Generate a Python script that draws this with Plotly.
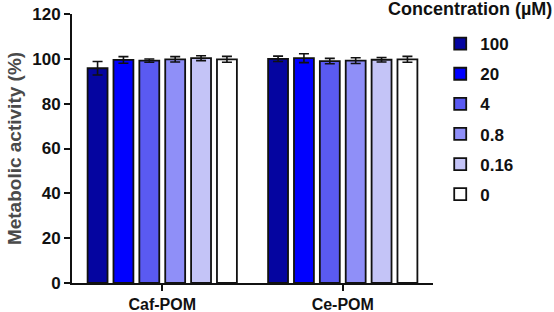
import plotly.graph_objects as go

groups = ["Caf-POM", "Ce-POM"]
concentrations = ["100", "20", "4", "0.8", "0.16", "0"]
values = {
    "100":  [95.8, 100.0],
    "20":   [99.5, 100.3],
    "4":    [99.2, 99.0],
    "0.8":  [99.8, 99.2],
    "0.16": [100.3, 99.6],
    "0":    [99.8, 99.8],
}
errors = {
    "100":  [3.0, 1.2],
    "20":   [1.5, 2.0],
    "4":    [0.7, 1.2],
    "0.8":  [1.2, 1.3],
    "0.16": [1.1, 1.0],
    "0":    [1.3, 1.3],
}
colors = ["#0505a0", "#0000ff", "#5a5af2", "#8f8ff8", "#c4c4f7", "#ffffff"]
y_ticks = [0, 20, 40, 60, 80, 100, 120]

FONT = "Liberation Sans, Arial, sans-serif"
W, H = 554, 312
L, R, T, B = 72, 121, 14, 29

fig = go.Figure()
for c, col in zip(concentrations, colors):
    fig.add_trace(go.Bar(
        x=groups, y=values[c], name=c,
        marker=dict(color=col, line=dict(color="#111111", width=1.8)),
        error_y=dict(type="data", array=errors[c], color="#111111",
                     thickness=1.6, width=5),
        legendgroup=c,
    ))

fig.update_layout(
    width=W, height=H,
    margin=dict(l=L, r=R, t=T, b=B, autoexpand=False),
    paper_bgcolor="white", plot_bgcolor="white",
    barmode="group", bargap=0.14, bargroupgap=0.23,
    font=dict(family=FONT, color="#111111"),
    showlegend=True,
    legend=dict(
        x=1.02, y=0.955, xanchor="left", yanchor="top",
        font=dict(family=FONT, size=17, color="#111111", weight="bold"),
        traceorder="grouped", tracegroupgap=5,
        itemwidth=30,
    ),
    annotations=[dict(
        text="<b>Concentration (µM)</b>",
        x=(W - L) / (W - L - R), xref="paper", xanchor="right",
        y=1.0 + (T - 9) / (H - T - B), yref="paper", yanchor="middle",
        showarrow=False,
        font=dict(family=FONT, size=18, color="#111111"),
    )],
)

fig.update_xaxes(
    showline=True, linecolor="#111111", linewidth=2,
    ticks="outside", ticklen=6, tickwidth=2, tickcolor="#111111",
    tickfont=dict(family=FONT, size=16, color="#111111", weight="bold"),
    showgrid=False, automargin=False,
)
fig.update_yaxes(
    range=[0, 120], tickvals=y_ticks,
    showline=True, linecolor="#111111", linewidth=2,
    ticks="outside", ticklen=6, tickwidth=2, tickcolor="#111111",
    tickfont=dict(family=FONT, size=17, color="#111111", weight="bold"),
    showgrid=False, zeroline=False, automargin=False,
    title=dict(text="<b>Metabolic activity (%)</b>", standoff=6,
               font=dict(family=FONT, size=19, color="#4a4a4a")),
)

fig.write_html("out.html", config={"displayModeBar": False},
               post_script="document.body.style.margin='0px';")
